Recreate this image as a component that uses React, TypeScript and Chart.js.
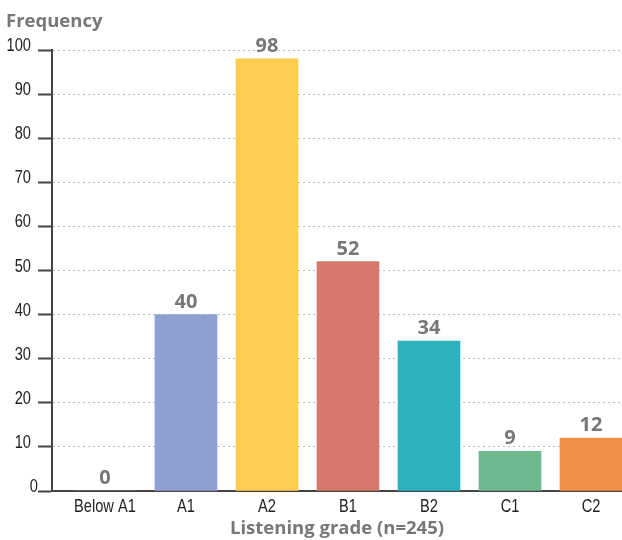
import React, { useEffect, useRef } from "react";
import { Chart, registerables } from "chart.js";

Chart.register(...registerables);

const categories = ["Below A1", "A1", "A2", "B1", "B2", "C1", "C2"];
const frequencies = [0, 40, 98, 52, 34, 9, 12];
const barColors = ["#8f9fd0", "#8f9fd0", "#fecd50", "#d6786c", "#2db1bd", "#6eb88d", "#f08f45"];
const yTicks = [0, 10, 20, 30, 40, 50, 60, 70, 80, 90, 100];
const yTitle = "Frequency";
const xTitle = "Listening grade (n=245)";

const tickFont = '19px "Liberation Sans", Arimo, sans-serif';
const narrowScale = 0.77; // squeeze the tick font horizontally into a narrow face
const boldFont = '"Open Sans", "Noto Sans", sans-serif';
const labelGray = "#777777";
const tickInk = "#222222";

// Draws a horizontally condensed label anchored at (x, y) on its baseline.
function narrowText(ctx: CanvasRenderingContext2D, text: string, x: number, y: number, align: CanvasTextAlign) {
  ctx.save();
  ctx.translate(x, y);
  ctx.scale(narrowScale, 1);
  ctx.textAlign = align;
  ctx.fillText(text, 0, 0);
  ctx.restore();
}

const annotations = {
  id: "annotations",
  afterDraw(chart: any) {
    const { ctx } = chart;
    const xs = chart.scales.x;
    const ys = chart.scales.y;
    ctx.save();

    // axis tick labels
    ctx.font = tickFont;
    ctx.fillStyle = tickInk;
    ctx.textBaseline = "alphabetic";
    yTicks.forEach((v) => {
      const y = ys.getPixelForValue(v);
      // the zero label sits tight against its short tick
      const right = v === 0 ? 38 : 31;
      narrowText(ctx, String(v), right, y + 1, "right");
    });
    categories.forEach((c, i) => {
      narrowText(ctx, c, xs.getPixelForValue(i), ys.bottom + 21, "center");
    });

    // value labels above the bars
    const meta = chart.getDatasetMeta(0);
    ctx.font = `bold 20px ${boldFont}`;
    ctx.fillStyle = labelGray;
    ctx.textAlign = "center";
    meta.data.forEach((bar: any, i: number) => {
      ctx.fillText(String(frequencies[i]), bar.x, bar.y - 7);
    });

    // y axis caption in the top-left corner
    ctx.textAlign = "left";
    ctx.font = `bold 18.5px ${boldFont}`;
    ctx.fillText(yTitle, 6, 27);
    ctx.restore();
  },
};

export default function App() {
  const canvasRef = useRef<HTMLCanvasElement | null>(null);

  useEffect(() => {
    document.body.style.margin = "0";
    const canvas = canvasRef.current;
    if (!canvas) return;
    const chart = new Chart(canvas, {
      type: "bar",
      data: {
        datasets: [
          {
            data: frequencies.map((v, i) => ({ x: i, y: v })),
            backgroundColor: barColors,
            barThickness: 62,
          },
        ],
      },
      options: {
        responsive: false,
        animation: false,
        layout: { padding: { top: 50, right: 0, left: 0, bottom: 0 } },
        plugins: {
          legend: { display: false },
          tooltip: { enabled: false },
        },
        scales: {
          x: {
            type: "linear",
            offset: false,
            bounds: "data",
            min: -0.654,
            max: 6.383,
            afterBuildTicks(scale: any) {
              scale.ticks = categories.map((_, i) => ({ value: i }));
            },
            afterFit(scale: any) {
              scale.height = 49;
            },
            grid: { display: false, drawTicks: false },
            border: { display: true, color: "#444444", width: 2 },
            ticks: { display: false },
            title: {
              display: true,
              text: xTitle,
              color: labelGray,
              font: { family: boldFont, size: 18.5, weight: "bold" },
              padding: { top: 0, bottom: 0 },
            },
          },
          y: {
            min: 0,
            max: 100,
            afterBuildTicks(scale: any) {
              scale.ticks = yTicks.map((v) => ({ value: v }));
            },
            afterFit(scale: any) {
              scale.width = 52;
            },
            ticks: { display: false },
            grid: {
              color: (c: any) => (c.tick && c.tick.value === 0 ? "rgba(0,0,0,0)" : "#bbbbbb"),
              lineWidth: 1,
              tickColor: "#444444",
              tickWidth: 2,
              tickLength: 14,
              tickBorderDash: [],
            },
            border: { display: true, color: "#444444", width: 2, dash: [2, 3] },
          },
        },
      },
      plugins: [annotations],
    });
    return () => chart.destroy();
  }, []);

  return (
    <div style={{ width: 622, height: 540, overflow: "hidden" }}>
      <canvas ref={canvasRef} width={622} height={540} style={{ display: "block" }} />
    </div>
  );
}
